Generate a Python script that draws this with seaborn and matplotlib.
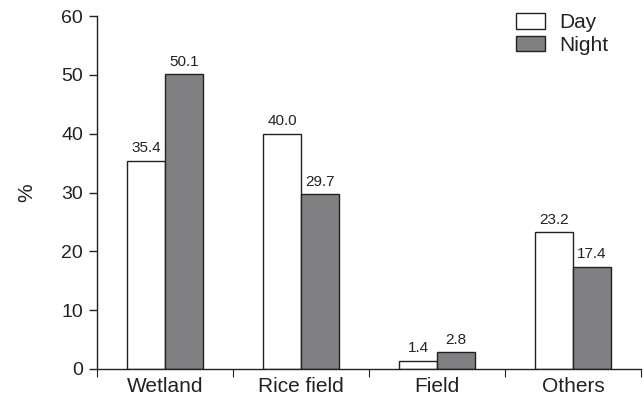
import matplotlib
matplotlib.use("Agg")
import matplotlib.pyplot as plt
import seaborn as sns
import pandas as pd

categories = ["Wetland", "Rice field", "Field", "Others"]
day = [35.4, 40.0, 1.4, 23.2]
night = [50.1, 29.7, 2.8, 17.4]
series = ["Day", "Night"]

df = pd.DataFrame({
    "cat": categories * 2,
    "val": day + night,
    "period": ["Day"] * 4 + ["Night"] * 4,
})

sns.set_style("ticks")
plt.rcParams["font.family"] = ["Liberation Sans", "DejaVu Sans"]

fig = plt.figure(figsize=(6.43, 4.04), dpi=100)
ax = fig.add_axes([0.151, 0.087, 0.846, 0.873])

sns.barplot(data=df, x="cat", y="val", hue="period", order=categories,
            hue_order=series, palette={"Day": "#ffffff", "Night": "#7f8083"},
            edgecolor="#222222", linewidth=1.0, width=0.56, ax=ax, legend=True)

for cont, vals in zip(ax.containers, [day, night]):
    ax.bar_label(cont, labels=[f"{v:.1f}" for v in vals], padding=4,
                 fontsize=11, color="#222222")

ax.set_xlim(-0.5, 3.5)
ax.set_ylim(0, 60)
ax.set_yticks(range(0, 61, 10))
ax.set_xticks([-0.5, 0.5, 1.5, 2.5, 3.5], minor=False)
ax.set_xticklabels([])
ax.set_xticks(range(4), minor=True)
ax.set_xticklabels(categories, minor=True)
ax.tick_params(axis="x", which="minor", length=0, labelsize=15, colors="#222222", pad=6)
ax.tick_params(axis="x", which="major", length=6, direction="out", color="#222222")
ax.tick_params(axis="y", length=6, labelsize=14, colors="#222222", width=1, pad=4)
ax.set_xlabel("")
ax.set_ylabel("%", fontsize=15, color="#222222", labelpad=18)
for s in ["top", "right"]:
    ax.spines[s].set_visible(False)
for s in ["left", "bottom"]:
    ax.spines[s].set_color("#222222")
    ax.spines[s].set_linewidth(1.0)

leg = ax.legend(loc="upper left", bbox_to_anchor=(506 / 643, 1 - 3 / 404),
                bbox_transform=fig.transFigure, frameon=False, borderpad=0,
                fontsize=15, handlelength=1.35, handleheight=0.77,
                labelspacing=0.15, handletextpad=0.72)
for t in leg.get_texts():
    t.set_color("#222222")

fig.savefig("out.png", dpi=100)
